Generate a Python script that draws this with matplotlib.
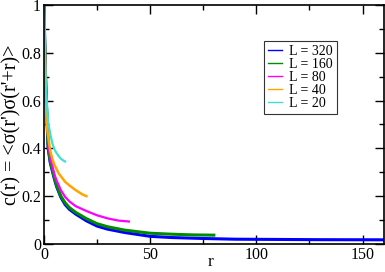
import numpy as np
import matplotlib
matplotlib.use('Agg')
import matplotlib.pyplot as plt
from matplotlib.ticker import MultipleLocator, FormatStrFormatter

plt.rcParams['font.family'] = ['Liberation Serif', 'DejaVu Serif']

# values
r_320 = [0, 0.5, 1, 2, 3, 4, 5, 6, 8, 10, 12, 15, 20, 25, 30, 38, 50, 60, 75, 90, 110, 130, 160]
c_320 = [1.0, 0.8, 0.62, 0.4, 0.34, 0.305, 0.27, 0.24, 0.195, 0.165, 0.145, 0.125, 0.097, 0.075,
         0.062, 0.048, 0.032, 0.027, 0.023, 0.02, 0.019, 0.018, 0.0175]
r_160 = [0, 0.5, 1, 2, 3, 4, 5, 6, 8, 10, 12, 15, 20, 25, 30, 38, 50, 60, 70, 80]
c_160 = [1.0, 0.8, 0.63, 0.41, 0.345, 0.31, 0.275, 0.245, 0.2, 0.172, 0.152, 0.132, 0.106, 0.085,
         0.072, 0.058, 0.045, 0.041, 0.038, 0.037]
r_80 = [0, 0.5, 1, 2, 3, 4, 5, 6, 8, 10, 12, 15, 17.5, 20, 25, 30, 35, 40]
c_80 = [1.0, 0.8, 0.64, 0.43, 0.36, 0.325, 0.29, 0.265, 0.225, 0.197, 0.178, 0.158, 0.148, 0.138,
        0.12, 0.107, 0.098, 0.094]
r_40 = [0, 0.5, 1, 1.3, 2, 3, 4, 5, 7, 10, 12, 15, 18, 20]
c_40 = [1.0, 0.8, 0.58, 0.5, 0.45, 0.39, 0.355, 0.33, 0.295, 0.26, 0.245, 0.225, 0.208, 0.2]
r_20 = [0, 0.5, 1, 2, 3, 4, 5, 6, 7, 8, 9, 10]
c_20 = [1.0, 0.8, 0.64, 0.51, 0.46, 0.42, 0.395, 0.38, 0.367, 0.357, 0.35, 0.345]

fig = plt.figure(figsize=(3.85, 2.72), dpi=100)
ax = fig.add_axes([0.114, 0.103, 0.883, 0.879])

ax.plot(r_320, c_320, color='#0000ff', lw=2.2, label='L = 320')
ax.plot(r_160, c_160, color='#008b00', lw=2.2, label='L = 160')
ax.plot(r_80, c_80, color='#ff00ff', lw=1.6, label='L = 80')
ax.plot(r_40, c_40, color='#ffa500', lw=1.8, label='L = 40')
ax.plot(r_20, c_20, color='#40e0d0', lw=1.6, label='L = 20')

ax.set_xlim(0, 160)
ax.set_ylim(0, 1)
ax.xaxis.set_major_locator(MultipleLocator(50))
ax.xaxis.set_minor_locator(MultipleLocator(25))
ax.yaxis.set_major_locator(MultipleLocator(0.2))
ax.yaxis.set_minor_locator(MultipleLocator(0.1))
ax.yaxis.set_major_formatter(FormatStrFormatter('%g'))
ax.tick_params(which='both', direction='in', top=True, right=True, labelsize=11.5, pad=2)
ax.tick_params(which='major', length=6.5, width=1)
ax.tick_params(which='minor', length=3.5, width=1)
for s in ax.spines.values():
    s.set_linewidth(1.2)

ax.set_xlabel('r', fontsize=12.5)
ax.xaxis.set_label_coords(0.49, -0.04)
ax.set_ylabel("c(r) = <σ(r')σ(r'+r)>", fontsize=14.5, labelpad=0)

leg = ax.legend(loc='upper left', bbox_to_anchor=(0.648, 0.851), fontsize=10, frameon=True,
                fancybox=False, edgecolor='black', handlelength=1.0, handletextpad=0.5,
                borderpad=0.3, labelspacing=0.0, borderaxespad=0)
leg.get_frame().set_linewidth(0.8)
for h in leg.get_lines():
    h.set_linewidth(1.0)

fig.savefig('out.png', dpi=100)
